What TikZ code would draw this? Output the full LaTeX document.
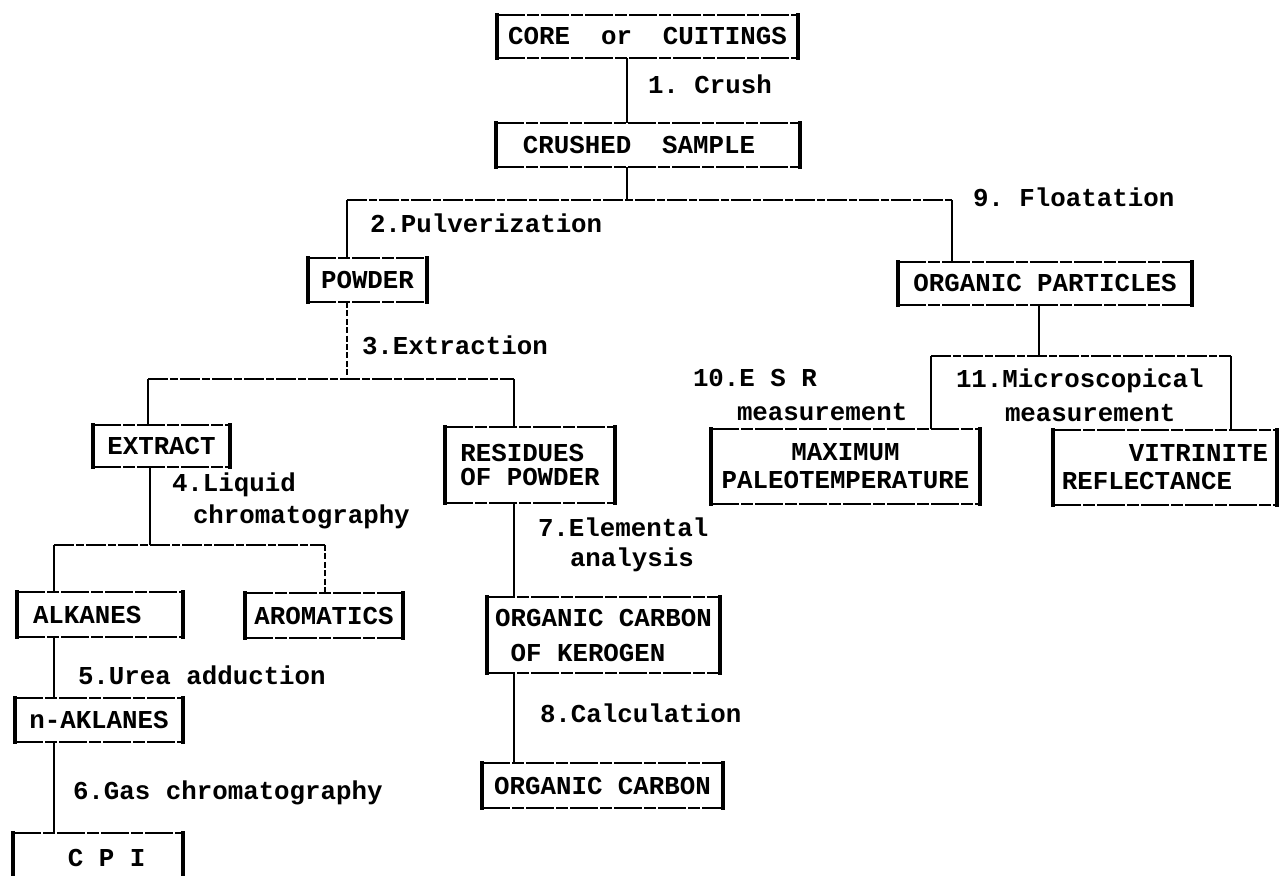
\documentclass[tikz,border=0pt]{standalone}
\usepackage{fontspec}
\setmainfont{Liberation Mono}
\newcommand{\fs}[1]{\bfseries\fontsize{12.9}{#1}\selectfont}
\begin{document}
\frenchspacing
\begin{tikzpicture}[x=0.5pt,y=-0.5pt,
  every node/.style={inner sep=0pt, outer sep=0pt, font=\fs{16}},
  bx/.style={rectangle, draw=none},
  lbl/.style={anchor=west, align=left},
  vconn/.style={line width=1.1pt},
  hconn/.style={line width=0.8pt, dash pattern=on 10pt off 1pt on 4pt off 1pt},
  vthin/.style={line width=0.6pt, dash pattern=on 3pt off 1.2pt},
  bside/.style={line width=1.6pt, line cap=rect},
  bedge/.style={line width=0.9pt, dash pattern=on 14pt off 1pt on 6pt off 1pt}]
\useasboundingbox (0,0) rectangle (1280,876);
\fill[white] (0,0) rectangle (1280,876);

% boxes
\node[bx, minimum width=150.5pt, minimum height=21.5pt] (core) at (647.5,36.5) {CORE\ \ or\ \ CUITINGS};
\node[bx, minimum width=152pt, minimum height=22pt] (crushed) at (648,145) {CRUSHED\ \ SAMPLE\hspace*{9pt}};
\node[bx, minimum width=59.5pt, minimum height=22pt] (powder) at (367.5,280) {POWDER};
\node[bx, minimum width=147pt, minimum height=21.5pt] (orgpart) at (1045,283.5) {ORGANIC PARTICLES};
\node[bx, minimum width=68.5pt, minimum height=21pt] (extract) at (161.5,446) {EXTRACT};
\node[bx, minimum width=85pt, minimum height=38pt, align=left, font=\fs{12}] (residues) at (530,465) {RESIDUES\\OF POWDER};
\node[bx, minimum width=83pt, minimum height=22.5pt] (alkanes) at (100,614.5) {ALKANES\hspace*{12.8pt}};
\node[bx, minimum width=79pt, minimum height=22.5pt] (aromatics) at (324,615.5) {AROMATICS};
\node[bx, minimum width=84pt, minimum height=22pt] (naklanes) at (99,720) {n-AKLANES};
\node[bx, minimum width=85pt, minimum height=25pt] (cpi) at (98,858) {\hspace*{8.7pt}C P I};
\node[bx, minimum width=116.5pt, minimum height=38pt, align=left, font=\fs{17.5}] (kerogen) at (603.5,635) {ORGANIC CARBON\\\hspace*{7.74pt}OF KEROGEN};
\node[bx, minimum width=120.5pt, minimum height=22.5pt] (orgcarbon) at (602.5,785.5) {ORGANIC CARBON};
\node[bx, minimum width=134.5pt, minimum height=37.5pt, align=center, font=\fs{14}] (maximum) at (845.5,466.5) {MAXIMUM\\PALEOTEMPERATURE};
\node[bx, minimum width=112pt, minimum height=37.5pt, align=left, font=\fs{14}] (vitrinite) at (1165,467.5) {\hspace*{33.5pt}VITRINITE\\REFLECTANCE};

\foreach \n in {core,crushed,powder,orgpart,extract,residues,alkanes,aromatics,naklanes,cpi,kerogen,orgcarbon,maximum,vitrinite}{
  \draw[bside] (\n.north west) -- (\n.south west);
  \draw[bside] (\n.north east) -- (\n.south east);
  \draw[bedge] (\n.north west) -- (\n.north east);
  \draw[bedge] (\n.south west) -- (\n.south east);
}

% junctions
\coordinate (jA) at (627,200);
\coordinate (jPw) at (347,200);
\coordinate (jFl) at (952,200);
\coordinate (jEx) at (347,379);
\coordinate (jEt) at (148,379);
\coordinate (jRs) at (514,379);
\coordinate (jLq) at (150,545);
\coordinate (jAl) at (54,545);
\coordinate (jAr) at (325,545);
\coordinate (jOp) at (1039,356);
\coordinate (jMx) at (931,356);
\coordinate (jVt) at (1231,356);

% connectors
\draw[vconn] (core.south -| jA) -- (crushed.north -| jA);
\draw[vconn] (crushed.south -| jA) -- (jA);
\draw[hconn] (jPw) -- (jFl);
\draw[vconn] (jPw) -- (powder.north -| jPw);
\draw[vconn] (jFl) -- (orgpart.north -| jFl);
\draw[vthin] (powder.south -| jEx) -- (jEx);
\draw[hconn] (jEt) -- (jRs);
\draw[vconn] (jEt) -- (extract.north -| jEt);
\draw[vconn] (jRs) -- (residues.north -| jRs);
\draw[vconn] (extract.south -| jLq) -- (jLq);
\draw[hconn] (jAl) -- (jAr);
\draw[vconn] (jAl) -- (alkanes.north -| jAl);
\draw[vthin] (jAr) -- (aromatics.north -| jAr);
\draw[vconn] (alkanes.south -| jAl) -- (naklanes.north -| jAl);
\draw[vconn] (naklanes.south -| jAl) -- (cpi.north -| jAl);
\draw[vconn] (residues.south -| jRs) -- (kerogen.north -| jRs);
\draw[vconn] (kerogen.south -| jRs) -- (orgcarbon.north -| jRs);
\draw[vconn] (orgpart.south -| jOp) -- (jOp);
\draw[hconn] (jMx) -- (jVt);
\draw[vconn] (jMx) -- (maximum.north -| jMx);
\draw[vconn] (jVt) -- (vitrinite.north -| jVt);

% labels
\node[lbl] (l1) at (648,84) {1. Crush};
\node[lbl] (l2) at (370,223) {2.Pulverization};
\node[lbl] (l9) at (973,197) {9. Floatation};
\node[lbl] (l3) at (362,345) {3.Extraction};
\node[lbl, font=\fs{16}] (l4) at (172,501) {4.Liquid\\\hspace*{10.5pt}chromatography};
\node[lbl] (l5) at (78,675) {5.Urea adduction};
\node[lbl] (l6) at (73,793) {6.Gas chromatography};
\node[lbl, font=\fs{15}] (l7) at (538,545) {7.Elemental\\\hspace*{16pt}analysis};
\node[lbl] (l8) at (540,713) {8.Calculation};
\node[lbl, font=\fs{17}] (l10) at (693,395) {10.E S R\\\hspace*{22pt}measurement};
\node[lbl, font=\fs{17}] (l11) at (956,395) {11.Microscopical\\\hspace*{24.5pt}measurement};
\end{tikzpicture}
\end{document}
